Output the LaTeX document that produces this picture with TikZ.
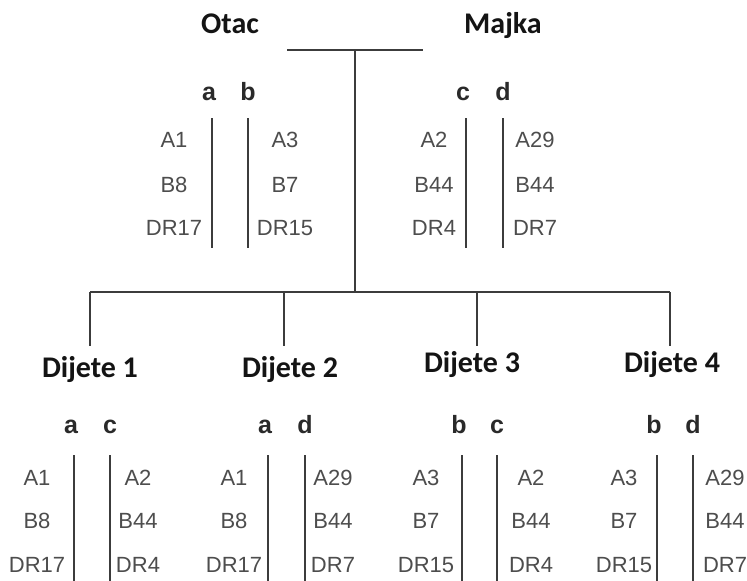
\documentclass[tikz,border=0pt]{standalone}
\usepackage{fontspec}
\setmainfont{Liberation Sans}
\newfontfamily\headfont{Carlito}
\definecolor{txt}{HTML}{4D4D4D}
\definecolor{ln}{HTML}{3C3C3C}
\definecolor{ltr}{HTML}{2A2A2A}
\def\gyL{100}\def\gyT{118}\def\gyE{248}
\def\gyA{147}\def\gyB{192}\def\gyC{235}
% #1 name, #2 left column x, #3 right column x, #4 left bar x, #5 right bar x,
% #6 left letter, #7 right letter, #8 left texts, #9 right texts
\newcommand\gtype[9]{%
  \node[allele] (#1-l) at (#4-3,\gyL) {#6};
  \node[allele] (#1-r) at (#5,\gyL) {#7};
  \coordinate (#1-lt) at (#4,\gyT); \coordinate (#1-lb) at (#4,\gyE);
  \coordinate (#1-rt) at (#5,\gyT); \coordinate (#1-rb) at (#5,\gyE);
  \draw[bar] (#1-lt) -- (#1-lb);
  \draw[bar] (#1-rt) -- (#1-rb);
  \foreach \t [count=\i] in {#8} {
    \pgfmathsetmacro\gyy{{\gyA,\gyB,\gyC}[\i-1]}
    \node[hla] (#1-L\i) at (#2,\gyy) {\t};
  }
  \foreach \t [count=\i] in {#9} {
    \pgfmathsetmacro\gyy{{\gyA,\gyB,\gyC}[\i-1]}
    \node[hla] (#1-R\i) at (#3,\gyy) {\t};
  }
}
\begin{document}
\begin{tikzpicture}[x=1pt,y=-1pt,
  head/.style={font=\headfont\bfseries\fontsize{30}{30}\selectfont, anchor=base, inner sep=0pt, text=black!92},
  allele/.style={font=\bfseries\fontsize{25}{25}\selectfont, anchor=base, inner sep=0pt, text=ltr},
  hla/.style={font=\fontsize{22}{22}\selectfont, anchor=base, inner sep=0pt, text=txt},
  tree/.style={draw=ln, line width=1.8pt},
  bar/.style={draw=ln, line width=2pt}]
\useasboundingbox (0,0) rectangle (747,581);
\fill[white] (0,0) rectangle (747,581);

% parents
\node[head] (otac) at (230,33) {Otac};
\node[head] (majka) at (503,33) {Majka};

% tree
\coordinate (pl) at (287,50);
\coordinate (pr) at (423,50);
\coordinate (pm) at (355,50);
\coordinate (hub) at (355,292);
\coordinate (hl) at (90,292);
\coordinate (hr) at (670,292);
\coordinate (k1) at (90,292);  \coordinate (e1) at (90,346);
\coordinate (k2) at (284,292); \coordinate (e2) at (284,346);
\coordinate (k3) at (477,292); \coordinate (e3) at (477,346);
\coordinate (k4) at (670,292); \coordinate (e4) at (670,346);
\draw[tree] (pl) -- (pr);
\draw[tree] (pm) -- (hub);
\draw[tree] (hl) -- (hr);
\draw[tree] (k1) -- (e1);
\draw[tree] (k2) -- (e2);
\draw[tree] (k3) -- (e3);
\draw[tree] (k4) -- (e4);

\gtype{fa}{174}{285}{212}{248}{a}{b}{A1,B8,DR17}{A3,B7,DR15}
\gtype{mo}{434}{535}{466}{503}{c}{d}{A2,B44,DR4}{A29,B44,DR7}

% children
\node[head] (d1) at (90,377) {Dijete 1};
\node[head] (d2) at (290,377) {Dijete 2};
\node[head] (d3) at (472,372) {Dijete 3};
\node[head] (d4) at (672,372) {Dijete 4};

\def\gyL{433}\def\gyT{455}\def\gyE{590}
\def\gyA{485}\def\gyB{528}\def\gyC{572}
\gtype{c1}{37}{138}{74}{110}{a}{c}{A1,B8,DR17}{A2,B44,DR4}
\gtype{c2}{234}{333}{268}{305}{a}{d}{A1,B8,DR17}{A29,B44,DR7}
\gtype{c3}{426}{531}{462}{497}{b}{c}{A3,B7,DR15}{A2,B44,DR4}
\gtype{c4}{624}{725}{657}{693}{b}{d}{A3,B7,DR15}{A29,B44,DR7}
\end{tikzpicture}
\end{document}
